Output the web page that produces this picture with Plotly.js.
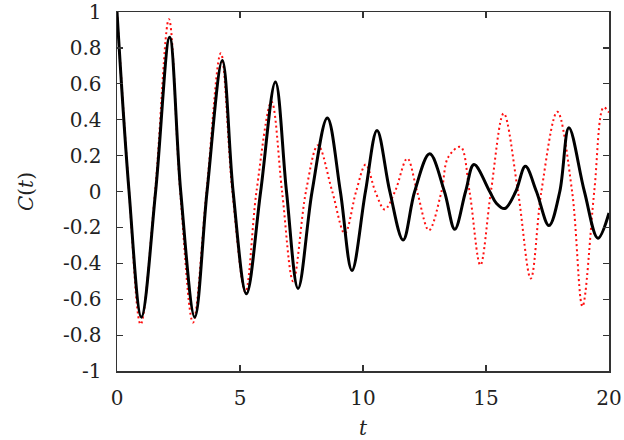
<!DOCTYPE html>
<html>
<head>
<meta charset="utf-8">
<script src="https://cdn.plot.ly/plotly-3.0.1.min.js"></script>
<style>html,body{margin:0;padding:0;background:#fff;}#chart{width:624px;height:440px;}</style>
</head>
<body>
<div id="chart"></div>
<script>
// Black solid curve: key points (t, C)
const tBlack = [0, 0.49, 0.99, 1.57, 2.14, 2.59, 3.16, 3.66, 4.28, 4.72, 5.26, 5.84, 6.44, 6.89, 7.36, 7.93, 8.55, 9.08, 9.55, 10.1, 10.57, 11.09, 11.63, 12.1, 12.71, 13.31, 13.73, 14.17, 14.51, 15.15, 15.42, 15.76, 16.21, 16.6, 17.05, 17.56, 18.0, 18.37, 19.0, 19.55, 20];
const cBlack = [1, 0, -0.70, 0, 0.86, 0, -0.70, 0, 0.73, 0, -0.57, 0, 0.61, 0, -0.54, 0, 0.41, 0, -0.44, 0, 0.34, 0, -0.27, 0, 0.21, 0, -0.21, 0, 0.15, 0, -0.065, -0.095, 0, 0.14, 0, -0.19, 0, 0.355, 0, -0.26, -0.12];

// Red dotted curve
const tRed = [0, 0.49, 0.96, 1.55, 2.11, 2.57, 3.09, 3.64, 4.22, 4.69, 5.22, 5.67, 6.28, 6.71, 7.16, 7.68, 8.17, 8.75, 9.26, 9.72, 10.11, 10.5, 10.88, 11.3, 11.8, 12.2, 12.68, 13.19, 13.46, 13.96, 14.33, 14.77, 15.2, 15.72, 16.3, 16.82, 17.25, 17.9, 18.5, 18.92, 19.4, 19.78, 20];
const cRed = [1, 0, -0.74, 0, 0.96, 0, -0.73, 0, 0.77, 0, -0.56, 0, 0.50, 0, -0.50, 0, 0.258, 0, -0.234, 0, 0.15, 0, -0.10, 0, 0.184, 0, -0.216, 0, 0.19, 0.249, 0, -0.41, 0, 0.435, 0, -0.485, 0, 0.444, 0, -0.64, 0, 0.468, 0.44];

const xTickVals = [0, 5, 10, 15, 20];
const xTickText = ["0", "5", "10", "15", "20"];
const yTickVals = [1, 0.8, 0.6, 0.4, 0.2, 0, -0.2, -0.4, -0.6, -0.8, -1];
const yTickText = ["1", "0.8", "0.6", "0.4", "0.2", "0", "-0.2", "-0.4", "-0.6", "-0.8", "-1"];

const font = {family: "DejaVu Serif", size: 20, color: "#222"};

const traces = [
  {x: tRed, y: cRed, mode: "lines", line: {color: "#ff1010", width: 2, dash: "2px,3px", shape: "spline", smoothing: 1}, hoverinfo: "skip"},
  {x: tBlack, y: cBlack, mode: "lines", line: {color: "#000", width: 3, shape: "spline", smoothing: 1}, hoverinfo: "skip"}
];

const axisCommon = {
  showgrid: false, zeroline: false, showline: true, linecolor: "#333", linewidth: 1.5,
  mirror: "ticks", ticks: "inside", ticklen: 6, tickcolor: "#333", tickwidth: 1.2,
  tickfont: font
};

const layout = {
  width: 624, height: 440,
  margin: {l: 117, r: 15, t: 12, b: 69},
  paper_bgcolor: "#fff", plot_bgcolor: "#fff",
  showlegend: false,
  font: font,
  xaxis: Object.assign({}, axisCommon, {
    range: [0, 20], tickmode: "array", tickvals: xTickVals, ticktext: xTickText,
    ticklabelstandoff: 8,
    title: {text: "<i>t</i>", font: font, standoff: 14}
  }),
  yaxis: Object.assign({}, axisCommon, {
    range: [-1, 1], tickmode: "array", tickvals: yTickVals, ticktext: yTickText,
    ticklabelstandoff: 10,
    title: {text: "<i>C</i>(<i>t</i>)", font: font, standoff: 24}
  })
};

Plotly.newPlot("chart", traces, layout, {staticPlot: true, displayModeBar: false});
</script>
</body>
</html>
